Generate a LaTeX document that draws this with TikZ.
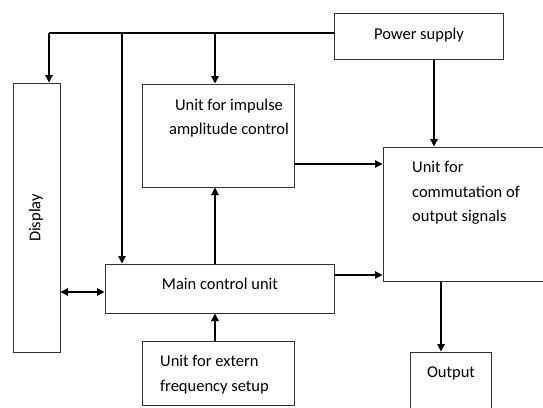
\documentclass[tikz,border=0pt]{standalone}
\usepackage{fontspec}
\setmainfont{Carlito}
\usetikzlibrary{arrows.meta}
\begin{document}
\begin{tikzpicture}[x=1pt,y=-1pt,
  box/.style={draw=black!80,line width=1pt,rectangle,inner sep=0pt,fill=none},
  txt/.style={inner sep=0pt,font=\fontsize{16.5}{24.5}\selectfont},
  arr/.style={draw=black,line width=1.2pt,-{Triangle[length=7.5pt,width=7.5pt]}},
  darr/.style={draw=black,line width=1.2pt,{Triangle[length=7.5pt,width=7.5pt]}-{Triangle[length=7.5pt,width=7.5pt]}},
  ln/.style={draw=black,line width=1.2pt}]
\useasboundingbox (0,0) rectangle (543,407);
\clip (0,0) rectangle (543,407);
% boxes
\node[box,minimum width=169pt,minimum height=46pt] (power) at (418.5,36) {};
\node[box,minimum width=47pt,minimum height=269pt] (display) at (36.5,217.5) {};
\node[box,minimum width=152pt,minimum height=103pt] (impulse) at (218,135.5) {};
\node[box,minimum width=177pt,minimum height=134pt] (comm) at (471.5,214) {};
\node[box,minimum width=229pt,minimum height=49pt] (main) at (219.5,288.5) {};
\node[box,minimum width=152pt,minimum height=64pt] (extern) at (218,373) {};
\node[box,minimum width=81pt,minimum height=68pt] (output) at (450.5,386) {};
% texts
\node[txt] (tpower) at (419,35) {Power supply};
\node[txt,rotate=90] (tdisplay) at (36,218) {Display};
\node[txt,align=center,anchor=north] (timpulse) at (229,98.5) {Unit for impulse\\amplitude control};
\node[txt,align=left,anchor=north west] (tcomm) at (412,161) {Unit for\\commutation of\\output signals};
\node[txt] (tmain) at (220,284) {Main control unit};
\node[txt,align=left,anchor=north west] (textern) at (160,355) {Unit for extern\\frequency setup};
\node[txt] (toutput) at (451,373) {Output};
% connectors
\coordinate (jd) at (49,33);
\coordinate (jm) at (122,33);
\coordinate (ji) at (215,33);
\draw[ln] (power.west |- jd) -- (jd);
\draw[arr] (jd) -- (display.north -| jd);
\draw[arr] (jm) -- (main.north -| jm);
\draw[arr] (ji) -- (impulse.north -| ji);
\draw[arr] (power.south -| 434,0) -- (comm.north -| 434,0);
\draw[arr] (impulse.east |- 0,164) -- (comm.west |- 0,164);
\draw[arr] (main.east |- 0,275) -- (comm.west |- 0,275);
\draw[arr] (main.north -| 215,0) -- (impulse.south -| 215,0);
\draw[darr] (display.east |- 0,292) -- (main.west |- 0,292);
\draw[arr] (extern.north -| 215,0) -- (main.south -| 215,0);
\draw[arr] (comm.south -| 441,0) -- (output.north -| 441,0);
\end{tikzpicture}
\end{document}
